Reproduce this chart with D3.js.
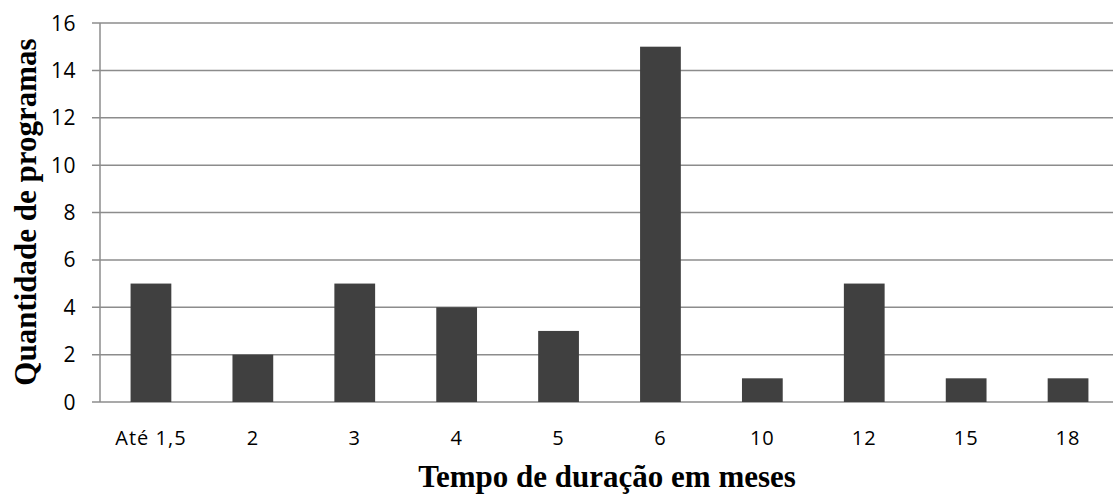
<!DOCTYPE html>
<html><head><meta charset="utf-8">
<script src="https://cdn.jsdelivr.net/npm/d3@7"></script>
<style>body{margin:0;background:#fff}svg{display:block}</style>
</head><body>
<svg id="c" width="1113" height="495"></svg>
<script>
const categories = ["Até 1,5","2","3","4","5","6","10","12","15","18"];
const values = [5,2,5,4,3,15,1,5,1,1];
const yTicks = [0,2,4,6,8,10,12,14,16];
const xTitle = "Tempo de duração em meses";
const yTitle = "Quantidade de programas";

(function(){
const svg = d3.select("#c");
const mL = 100, mR = 1119, mT = 23, mB = 402;
const x = d3.scaleBand().domain(categories).range([mL, mR]).paddingInner(0.6).paddingOuter(0.3);
const y = d3.scaleLinear().domain([0,16]).range([mB, mT]);

svg.append("g").selectAll("line").data(yTicks).join("line")
  .attr("x1", mL - 8).attr("x2", mR)
  .attr("y1", d => y(d)).attr("y2", d => y(d))
  .attr("stroke", "#8c8c8c").attr("stroke-width", 1.5);
svg.append("line").attr("x1", mL).attr("x2", mL).attr("y1", mT).attr("y2", mB)
  .attr("stroke", "#8c8c8c").attr("stroke-width", 1.5);

svg.append("g").selectAll("rect").data(values).join("rect")
  .attr("x", (d,i) => x(categories[i]))
  .attr("width", x.bandwidth())
  .attr("y", d => y(d))
  .attr("height", d => y(0) - y(d))
  .attr("fill", "#404040");

const font = "'Open Sans', 'Liberation Sans', sans-serif";
svg.append("g").selectAll("text").data(yTicks).join("text")
  .attr("x", 76).attr("y", d => y(d)).attr("dy", "0.36em")
  .attr("text-anchor", "end").attr("font-family", font).attr("font-size", 21)
  .attr("letter-spacing", 0.5)
  .attr("fill", "#000").text(d => d);

svg.append("g").selectAll("text").data(categories).join("text")
  .attr("x", d => x(d) + x.bandwidth()/2).attr("y", 445)
  .attr("text-anchor", "middle").attr("font-family", font).attr("font-size", 20)
  .attr("letter-spacing", 1)
  .attr("fill", "#000").text(d => d);

svg.append("text").attr("x", 607).attr("y", 487).attr("text-anchor", "middle")
  .attr("font-family", "'Liberation Serif', 'Times New Roman', serif").attr("font-weight", "bold")
  .attr("font-size", 31).text(xTitle);

svg.append("text").attr("transform", "translate(36,212) rotate(-90)").attr("text-anchor", "middle")
  .attr("font-family", "'Liberation Serif', 'Times New Roman', serif").attr("font-weight", "bold")
  .attr("font-size", 31).text(yTitle);
})();
</script>
</body></html>
